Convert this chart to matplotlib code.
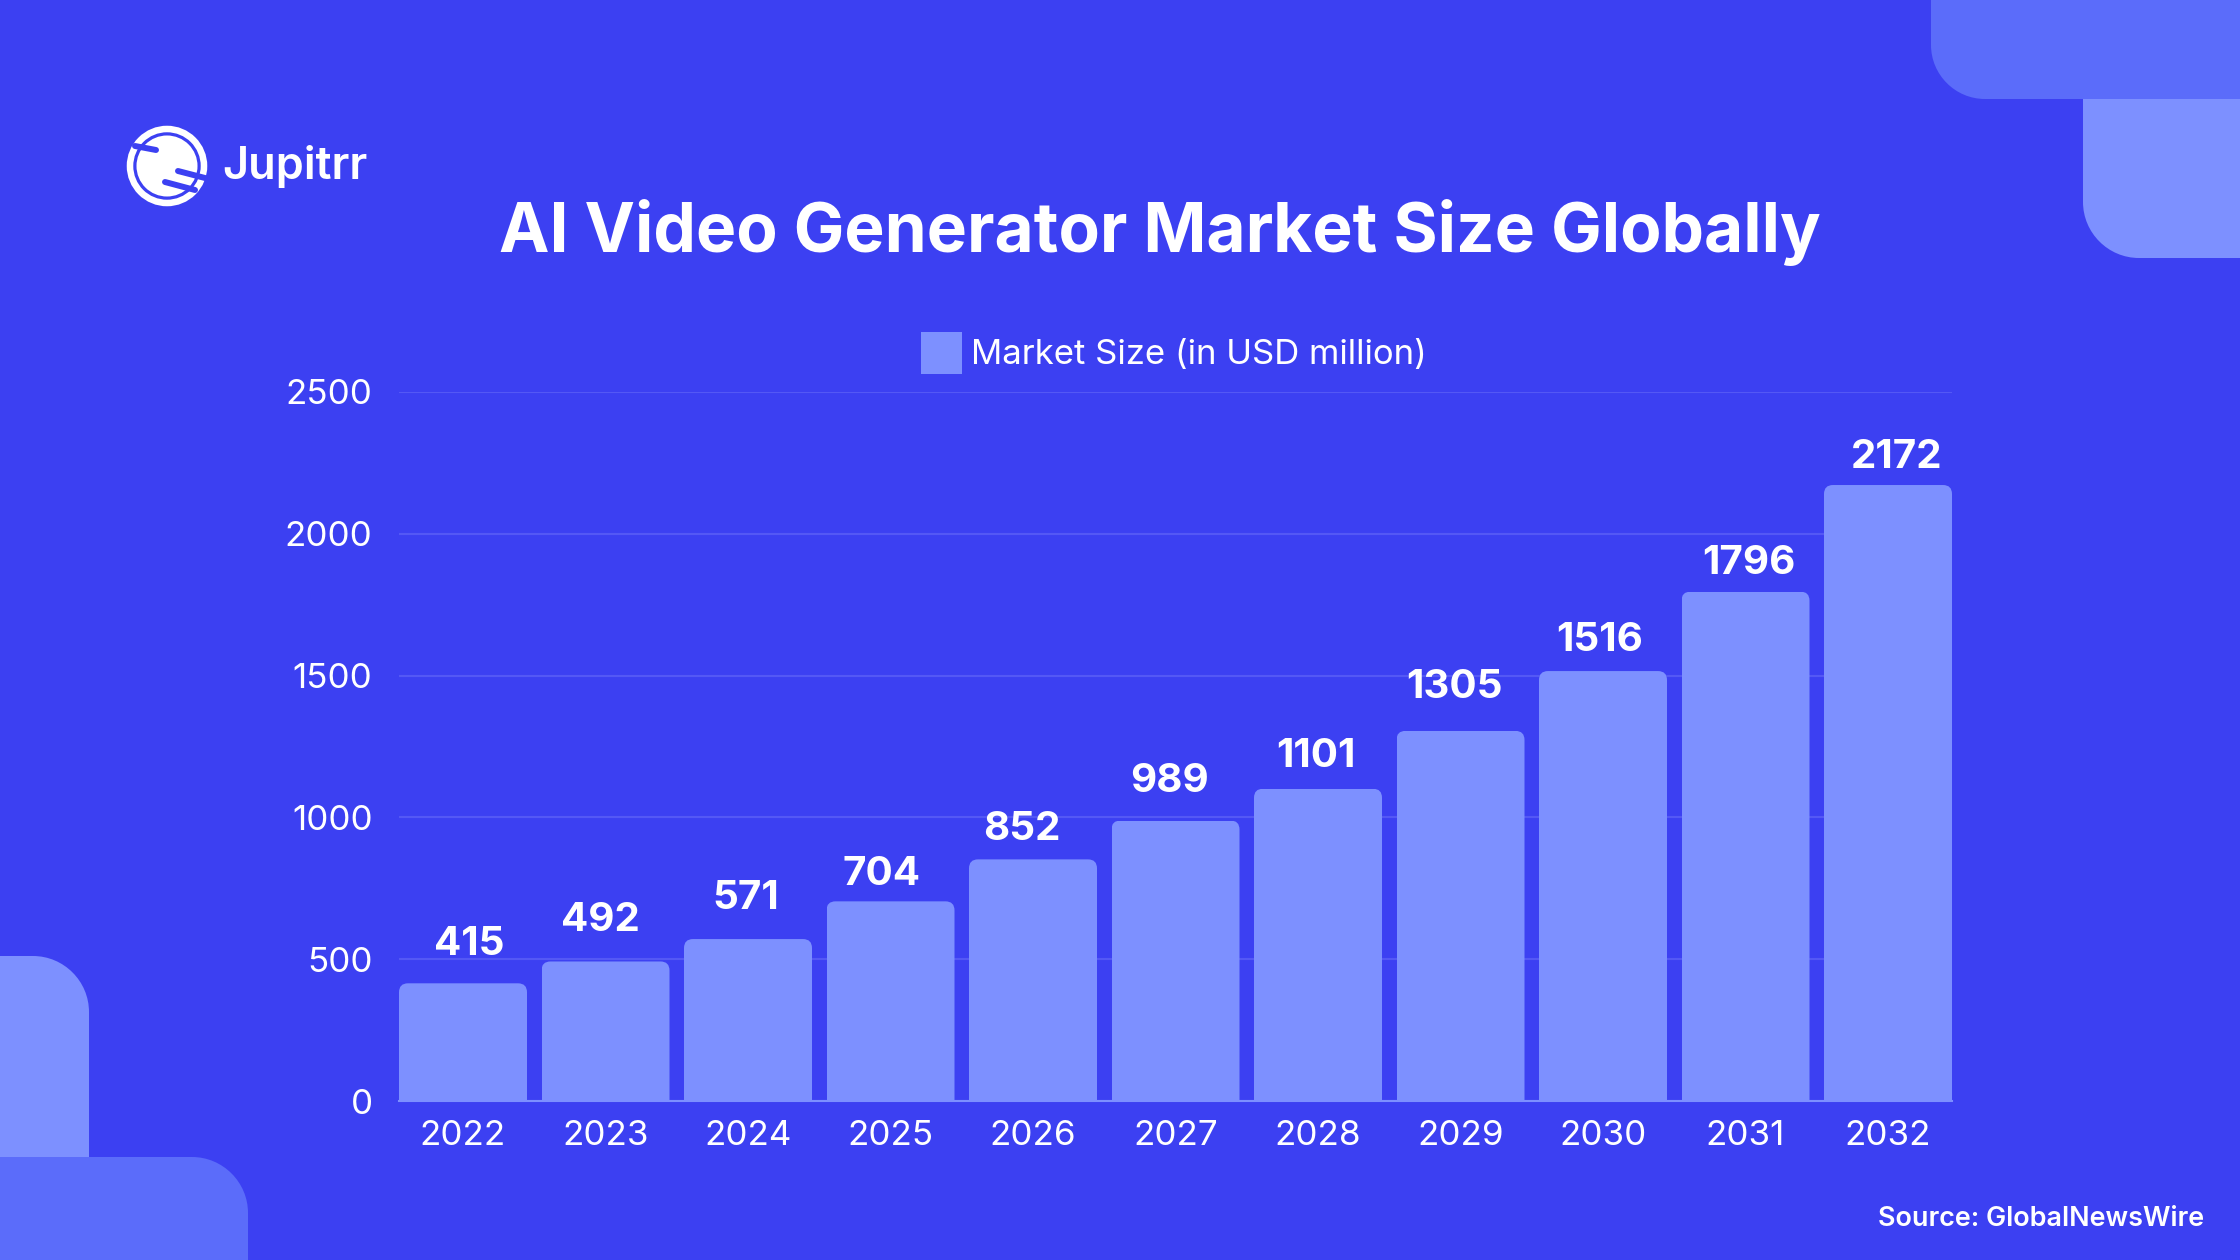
import matplotlib
matplotlib.use('Agg')
import matplotlib.pyplot as plt
from matplotlib.patches import Circle, PathPatch, Rectangle
from matplotlib.path import Path

years = ['2022', '2023', '2024', '2025', '2026', '2027', '2028', '2029', '2030', '2031', '2032']
market_size = [415, 492, 571, 704, 852, 989, 1101, 1305, 1516, 1796, 2172]
y_ticks = [0, 500, 1000, 1500, 2000, 2500]

# nudges for the value labels, in pixels
label_dx = [6, -5, -2, -9, -11, -6, -2, -6, -3, 3, 9]
label_dy = [39, 41, 41, 27, 30, 39, 32, 43, 31, 28, 28]

BG = '#3C40F2'
LIGHT = '#7D90FF'
MID = '#5B6CFA'
GRID = '#5458F5'
FONT = 'Inter'

W, H = 2240, 1260


def corner_box(x0, y0, x1, y1, corners, r):
    # box with only the named corners rounded (y grows downward here)
    k = r * 0.45
    v = []
    c = []
    def add(pts, codes):
        v.extend(pts)
        c.extend(codes)
    curve = [Path.CURVE4] * 3
    if 'tl' in corners:
        add([(x0, y0 + r)], [Path.MOVETO])
        add([(x0, y0 + k), (x0 + k, y0), (x0 + r, y0)], curve)
    else:
        add([(x0, y0)], [Path.MOVETO])
    if 'tr' in corners:
        add([(x1 - r, y0)], [Path.LINETO])
        add([(x1 - k, y0), (x1, y0 + k), (x1, y0 + r)], curve)
    else:
        add([(x1, y0)], [Path.LINETO])
    if 'br' in corners:
        add([(x1, y1 - r)], [Path.LINETO])
        add([(x1, y1 - k), (x1 - k, y1), (x1 - r, y1)], curve)
    else:
        add([(x1, y1)], [Path.LINETO])
    if 'bl' in corners:
        add([(x0 + r, y1)], [Path.LINETO])
        add([(x0 + k, y1), (x0, y1 - k), (x0, y1 - r)], curve)
    else:
        add([(x0, y1)], [Path.LINETO])
    add([(0, 0)], [Path.CLOSEPOLY])
    return Path(v, c)


fig = plt.figure(figsize=(W / 100, H / 100), dpi=100, facecolor=BG)

# page layer in pixel coordinates for the corner shapes and the logo
bg = fig.add_axes([0, 0, 1, 1])
bg.set_xlim(0, W)
bg.set_ylim(H, 0)
bg.axis('off')

bg.add_patch(PathPatch(corner_box(2083, 80, 2260, 258, ['bl'], 56), fc=LIGHT, ec='none'))
bg.add_patch(PathPatch(corner_box(1931, -20, 2260, 99, ['bl'], 54), fc=MID, ec='none'))
bg.add_patch(PathPatch(corner_box(-20, 956, 89, 1180, ['tr'], 56), fc=LIGHT, ec='none'))
bg.add_patch(PathPatch(corner_box(-20, 1157, 248, 1280, ['tr'], 56), fc=MID, ec='none'))

# logo: ring, disc and three cut-out streaks
bg.add_patch(Circle((167, 166), 37, fc='none', ec='white', lw=4.7))
bg.add_patch(Circle((167, 166), 30.5, fc='white', ec='none'))
for (x0, y0, x1, y1) in [(135, 146, 156, 150), (178, 171, 205, 178), (165, 182, 195, 190)]:
    bg.plot([x0, x1], [y0, y1], color=BG, lw=4.3, solid_capstyle='round')
bg.text(222.5, 167, 'Jupitrr', color='white', fontsize=32.5, fontweight='semibold',
        family=FONT, va='center', ha='left')

bg.text(1160, 232, 'AI Video Generator Market Size Globally', color='white', fontsize=48.7,
        fontweight='bold', family=FONT, ha='center', va='center')

# legend is placed by hand above the plot
bg.add_patch(Rectangle((921, 332), 41, 42, fc=LIGHT, ec='none'))
bg.text(971, 355, 'Market Size (in USD million)', color='white', fontsize=25,
        family=FONT, ha='left', va='center')

bg.text(2204, 1219, 'Source: GlobalNewsWire', color='white', fontsize=19.4, fontweight='semibold',
        family=FONT, ha='right', va='center')

# chart
ax = fig.add_axes([399 / W, 1 - 1101 / H, (1952 - 399) / W, (1101 - 392) / H])
ax.set_facecolor('none')
x = list(range(len(years)))
width = 128 / 142.5
bars = ax.bar(x, market_size, width=width, color=LIGHT, zorder=3)
ax.set_xlim(-width / 2, 10 + width / 2)
ax.set_ylim(0, 2500)

# round the top corners of each bar by clipping it
rx = 9 / 142.5
ry = 9 * 2500 / 709
for bar in bars:
    x0, x1 = bar.get_x(), bar.get_x() + bar.get_width()
    top = bar.get_height()
    verts = [(x0, 0), (x0, top - ry), (x0, top), (x0 + rx, top), (x1 - rx, top),
             (x1, top), (x1, top - ry), (x1, 0), (x0, 0)]
    codes = [Path.MOVETO, Path.LINETO, Path.CURVE3, Path.CURVE3, Path.LINETO,
             Path.CURVE3, Path.CURVE3, Path.LINETO, Path.CLOSEPOLY]
    bar.set_clip_path(PathPatch(Path(verts, codes), transform=ax.transData))

ax.set_yticks(y_ticks)
ax.set_xticks(x)
ax.set_xticklabels(years)
ax.tick_params(length=0, labelcolor='white', labelsize=25.2)
ax.tick_params(axis='y', pad=19)
ax.tick_params(axis='x', pad=13.5)
for lab in ax.get_xticklabels() + ax.get_yticklabels():
    lab.set_family(FONT)
ax.grid(axis='y', color=GRID, lw=1.5, zorder=0)
ax.set_axisbelow(True)
for name in ['top', 'left', 'right']:
    ax.spines[name].set_visible(False)
ax.spines['bottom'].set_color(LIGHT)
ax.spines['bottom'].set_linewidth(1.5)

for i, v in enumerate(market_size):
    ax.annotate(str(v), (i, v), xytext=(label_dx[i], label_dy[i]), textcoords='offset pixels',
                ha='center', va='center', color='white', fontsize=29, fontweight='bold',
                family=FONT, zorder=4)

fig.savefig('out.png', dpi=100, facecolor=BG)
